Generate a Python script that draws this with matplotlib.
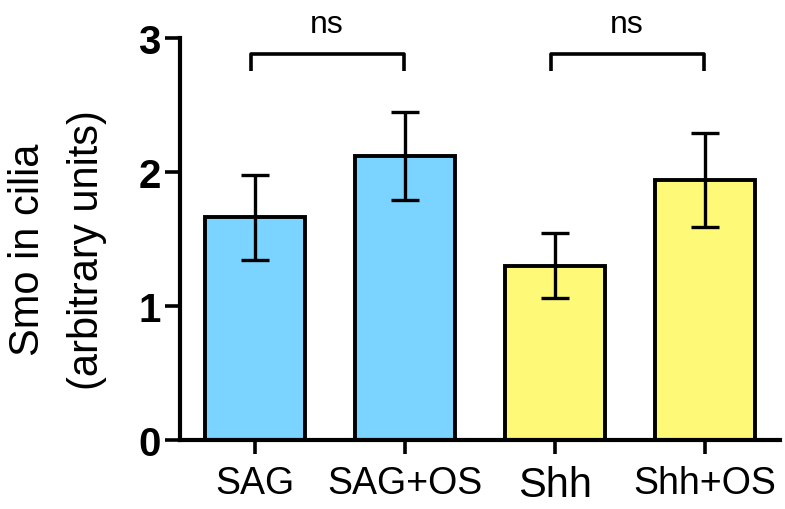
import matplotlib
matplotlib.use("Agg")
import matplotlib.pyplot as plt

categories = ["SAG", "SAG+OS", "Shh", "Shh+OS"]
values = [1.66, 2.12, 1.30, 1.94]
errors = [0.32, 0.33, 0.24, 0.35]
colors = ["#7BD3FF", "#7BD3FF", "#FFF978", "#FFF978"]
comparisons = [(0, 1, "ns"), (2, 3, "ns")]
yticks = [0, 1, 2, 3]

plt.rcParams['font.family'] = ['Liberation Sans', 'DejaVu Sans']

fig = plt.figure(figsize=(7.85, 5.10), dpi=100)
ax = fig.add_axes([180/785, (510-440.7)/510, 600/785, (440.7-39)/510])

x = list(range(len(categories)))
ax.bar(x, values, width=0.667, color=colors, edgecolor="black", linewidth=2.8, zorder=2)
ax.errorbar(x, values, yerr=errors, fmt="none", ecolor="black", elinewidth=2.4,
            capsize=10, capthick=2.4, zorder=3)

ax.set_xlim(-0.5, 3.5)
ax.set_ylim(0, 3)
ax.set_yticks(yticks)
ax.set_yticklabels([str(t) for t in yticks], fontsize=29, fontweight="bold")
ax.set_xticks(x)
ax.set_xticklabels(categories, fontsize=27)
for lbl in ax.get_xticklabels():
    if lbl.get_text() == "Shh":
        lbl.set_fontsize(30)

for s in ["top", "right"]:
    ax.spines[s].set_visible(False)
for s in ["left", "bottom"]:
    ax.spines[s].set_linewidth(3)
ax.tick_params(axis="y", length=11, width=2.6, pad=3)
ax.tick_params(axis="x", length=10, width=2.6, pad=8)

ax.set_ylabel("Smo in cilia\n(arbitrary units)", fontsize=30, linespacing=1.62)
ax.yaxis.set_label_coords(-0.122, 0.475)

for a, b, txt in comparisons:
    xa, xb = a - 0.03, b - 0.01
    ax.plot([xa, xa, xb, xb], [2.75, 2.877, 2.877, 2.75], color="black",
            linewidth=2.6, clip_on=False, solid_capstyle="butt")
    ax.text((xa + xb) / 2, 2.99, txt, ha="center", va="bottom", fontsize=23, clip_on=False)

fig.savefig("out.png", dpi=100)
